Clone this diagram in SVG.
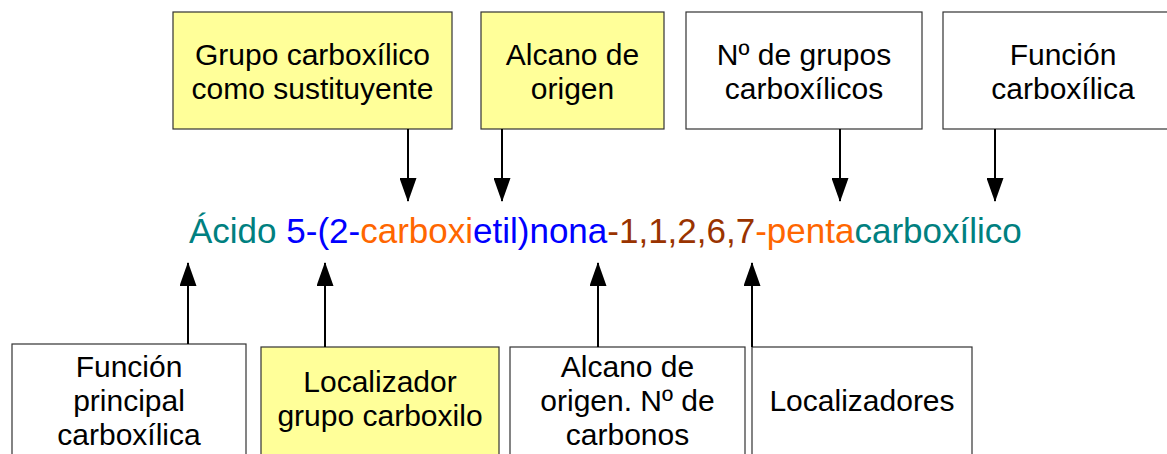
<svg xmlns="http://www.w3.org/2000/svg" width="1167" height="454" viewBox="0 0 1167 454">
<defs>
<style>
.box{stroke:#333;stroke-width:1.2}
.y{fill:#FFFF99}
.w{fill:#FFFFFF}
.lbl{font-family:"Liberation Sans",Arial,sans-serif;font-size:30px;fill:#000;text-anchor:middle}
.main{font-family:"Liberation Sans",Arial,sans-serif;font-size:35px}
.conn line{stroke:#000;stroke-width:2;marker-end:url(#ah)}
</style>
<marker id="ah" markerUnits="userSpaceOnUse" markerWidth="24" markerHeight="17" refX="23" refY="8.5" orient="auto" viewBox="0 0 24 17">
<path d="M0,0 L24,8.5 L0,17 Z" fill="#000"/>
</marker>
</defs>
<rect width="1167" height="454" fill="#fff"/>
<g id="top-grupo-carboxilico">
<rect class="box y" x="173" y="12" width="279" height="117"/>
<text class="lbl" x="312.5" y="65">Grupo carboxílico</text>
<text class="lbl" x="312.5" y="99">como sustituyente</text>
</g>
<g id="top-alcano-origen">
<rect class="box y" x="481" y="12" width="183" height="117"/>
<text class="lbl" x="572.5" y="65">Alcano de</text>
<text class="lbl" x="572.5" y="99">origen</text>
</g>
<g id="top-num-grupos">
<rect class="box w" x="686" y="12" width="236" height="117"/>
<text class="lbl" x="804" y="65">Nº de grupos</text>
<text class="lbl" x="804" y="99">carboxílicos</text>
</g>
<g id="top-funcion">
<rect class="box w" x="943" y="12" width="240" height="117"/>
<text class="lbl" x="1063" y="65">Función</text>
<text class="lbl" x="1063" y="99">carboxílica</text>
</g>
<g id="name">
<text class="main" x="189" y="243"><tspan fill="#008080">Ácido </tspan><tspan fill="#0000FF">5-(2-</tspan><tspan fill="#FF6600">carboxi</tspan><tspan fill="#0000FF">etil)nona</tspan><tspan fill="#993300">-1,1,2,6,7</tspan><tspan fill="#FF6600">-penta</tspan><tspan fill="#008080">carboxílico</tspan></text>
</g>
<g id="bot-funcion-principal">
<rect class="box w" x="12" y="344" width="234" height="120"/>
<text class="lbl" x="129" y="377">Función</text>
<text class="lbl" x="129" y="411">principal</text>
<text class="lbl" x="129" y="445">carboxílica</text>
</g>
<g id="bot-localizador-grupo">
<rect class="box y" x="261" y="347" width="238" height="117"/>
<text class="lbl" x="380" y="392">Localizador</text>
<text class="lbl" x="380" y="426">grupo carboxilo</text>
</g>
<g id="bot-alcano-origen">
<rect class="box w" x="510" y="347" width="235" height="117"/>
<text class="lbl" x="627.5" y="377">Alcano de</text>
<text class="lbl" x="627.5" y="411">origen. Nº de</text>
<text class="lbl" x="627.5" y="445">carbonos</text>
</g>
<g id="bot-localizadores">
<rect class="box w" x="752" y="347" width="220" height="117"/>
<text class="lbl" x="862" y="411">Localizadores</text>
</g>
<g id="connectors" class="conn">
<line x1="408" y1="129" x2="408" y2="201"/>
<line x1="502" y1="129" x2="502" y2="201"/>
<line x1="840" y1="129" x2="840" y2="201"/>
<line x1="995" y1="129" x2="995" y2="201"/>
<line x1="188" y1="344" x2="188" y2="263"/>
<line x1="325" y1="347" x2="325" y2="263"/>
<line x1="598" y1="347" x2="598" y2="263"/>
<line x1="752" y1="347" x2="752" y2="263"/>
</g>
</svg>
